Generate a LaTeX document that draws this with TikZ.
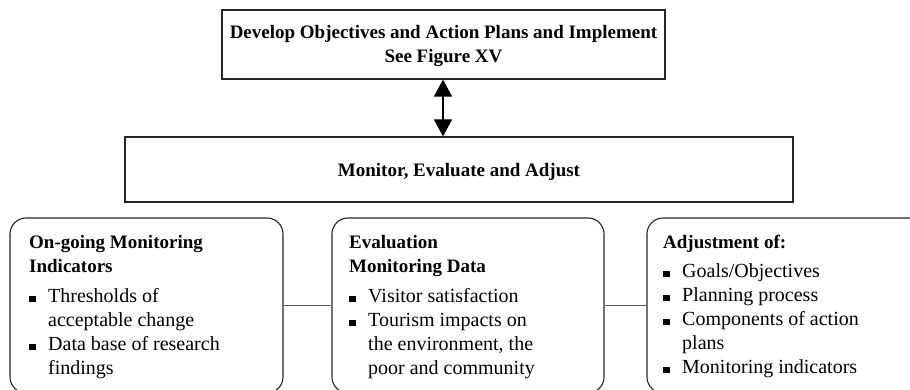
\documentclass[tikz,border=0pt]{standalone}
\usepackage{fontspec}
\setmainfont{Liberation Serif}
\usetikzlibrary{arrows.meta}

% bullet item lines for the lower boxes
\newcommand{\bul}{\makebox[19pt][l]{\rule{6.5pt}{6.5pt}}}
\newcommand{\cont}{\hspace*{19pt}}

\tikzset{
  sqbox/.style={draw=black!85, line width=1.2pt, inner sep=0pt},
  rbox/.style={draw=black!85, line width=1.1pt, rounded corners=16pt, inner sep=0pt},
  boxtitle/.style={font=\fontsize{19}{24}\selectfont\bfseries, align=center},
  listtext/.style={anchor=base west, inner sep=0pt},
  link/.style={draw=black!65, line width=1.1pt},
  twoway/.style={line width=1.2pt, {Triangle[width=18pt,length=17pt]}-{Triangle[width=18pt,length=17pt]}}
}

\begin{document}
\begin{tikzpicture}[x=1pt,y=-1pt]
  \useasboundingbox (0,0) rectangle (910,390);
  \clip (0,0) rectangle (910,390);

  % upper boxes
  \node[sqbox, minimum width=443pt, minimum height=69pt] (plan) at (443.5,44.5) {};
  \node[boxtitle] (plantxt) at (443.5,46) {Develop Objectives and Action Plans and Implement\\See Figure XV};

  \node[sqbox, minimum width=668pt, minimum height=65pt] (mon) at (459,169.5) {};
  \node[boxtitle] (montxt) at (459,172) {Monitor, Evaluate and Adjust};

  \draw[twoway] (plan.south -| 443,0) -- (mon.north -| 443,0);

  % lower rounded boxes
  \node[rbox, minimum width=273pt, minimum height=175pt] (ong) at (146.5,305.5) {};
  \node[rbox, minimum width=272pt, minimum height=175pt] (eva) at (468,305.5) {};
  \node[rbox, minimum width=278pt, minimum height=175pt] (adj) at (786,305.5) {};

  \draw[link] (ong.east) -- (eva.west);
  \draw[link] (eva.east) -- (adj.west);

  % box contents
  \node[listtext] (ongtxt) at (29,248) {\parbox[t]{250pt}{\raggedright\fontsize{20}{24}\selectfont
    {\fontsize{19}{24}\selectfont\bfseries On-going Monitoring\\Indicators}\\[6pt]
    \bul Thresholds of\\
    \cont acceptable change\\
    \bul Data base of research\\
    \cont findings}};

  \node[listtext] (evatxt) at (349,248) {\parbox[t]{250pt}{\raggedright\fontsize{20}{24}\selectfont
    {\fontsize{19}{24}\selectfont\bfseries Evaluation\\Monitoring Data}\\[6pt]
    \bul Visitor satisfaction\\
    \bul Tourism impacts on\\
    \cont the environment, the\\
    \cont poor and community}};

  \node[listtext] (adjtxt) at (663,248) {\parbox[t]{250pt}{\raggedright\fontsize{20}{24}\selectfont
    {\fontsize{19}{24}\selectfont\bfseries Adjustment of:}\\[5pt]
    \bul Goals/Objectives\\
    \bul Planning process\\
    \bul Components of action\\
    \cont plans\\
    \bul Monitoring indicators}};
\end{tikzpicture}
\end{document}
